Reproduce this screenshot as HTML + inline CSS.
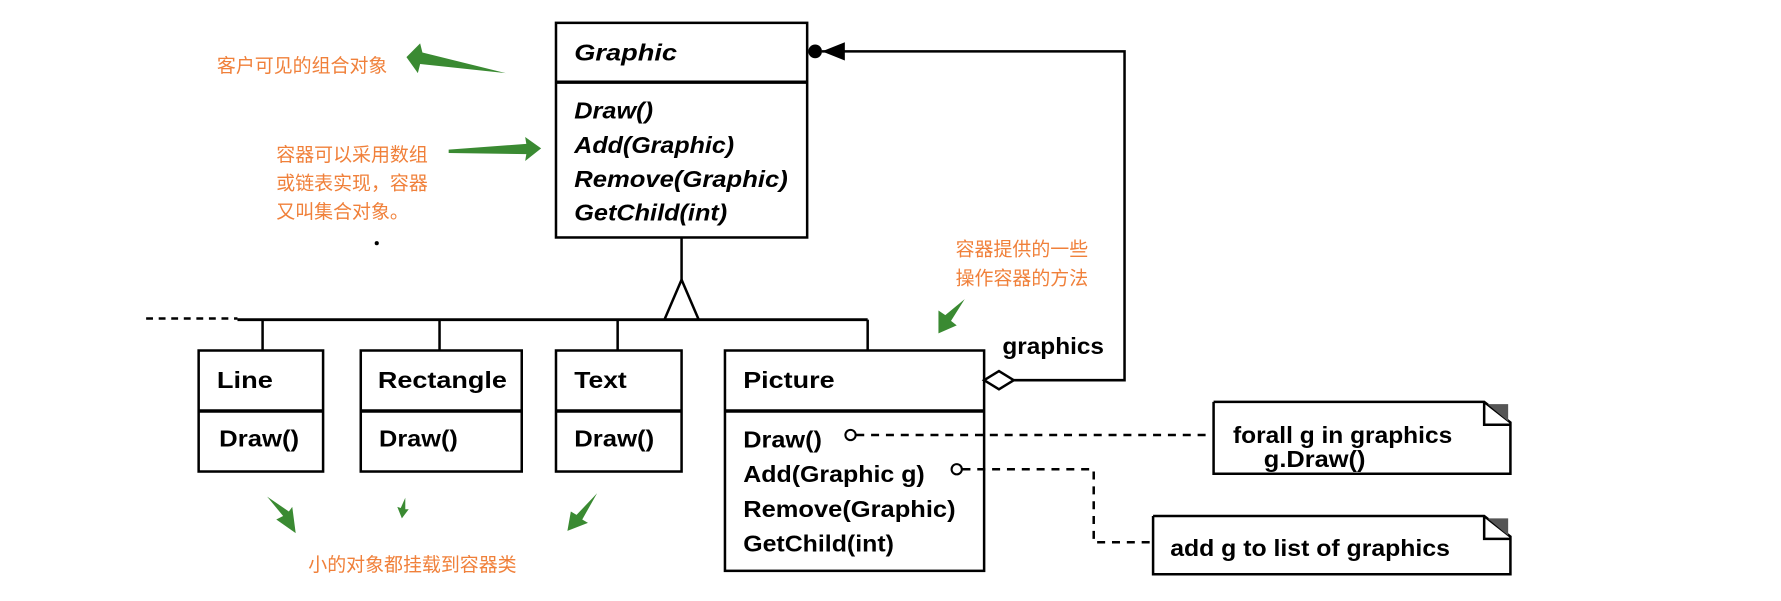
<!DOCTYPE html>
<html><head><meta charset="utf-8"><style>
html,body{margin:0;padding:0;background:#fff;}
svg{display:block;}
.b{font-family:"Liberation Sans",sans-serif;font-weight:bold;fill:#000;}
.m{font-family:"Liberation Sans",sans-serif;font-weight:bold;fill:#000;}
.o{font-family:"Liberation Sans","Noto Sans CJK SC",sans-serif;fill:#f0803a;font-size:16.6px;}
</style></head><body>
<svg width="1781" height="601" viewBox="0 0 1560 526.4" xmlns="http://www.w3.org/2000/svg">
<g stroke="#000" stroke-width="2.2" fill="none">
<rect x="487" y="20" width="220" height="188"/>
<line x1="487" y1="72" x2="707" y2="72" stroke-width="3"/>
<line x1="597" y1="208" x2="597" y2="245"/>
<polygon points="597,245 582,280 612,280"/>
<line x1="208" y1="280" x2="760" y2="280" stroke-width="2.6"/>
<line x1="128" y1="279" x2="208" y2="279" stroke-dasharray="6,5"/>
<line x1="230" y1="280" x2="230" y2="307"/>
<line x1="385" y1="280" x2="385" y2="307"/>
<line x1="541" y1="280" x2="541" y2="307"/>
<line x1="760" y1="280" x2="760" y2="307"/>
<rect x="174" y="307" width="109" height="106"/>
<line x1="174" y1="360" x2="283" y2="360" stroke-width="3"/>
<rect x="316" y="307" width="141" height="106"/>
<line x1="316" y1="360" x2="457" y2="360" stroke-width="3"/>
<rect x="487" y="307" width="110" height="106"/>
<line x1="487" y1="360" x2="597" y2="360" stroke-width="3"/>
<rect x="635" y="307" width="227" height="193"/>
<line x1="635" y1="360" x2="862" y2="360" stroke-width="3"/>
<polyline points="720,45 985,45 985,333 888,333"/>
<polygon points="862,333 875,325 888,333 875,341" fill="#fff"/>
<circle cx="745" cy="381" r="4.5" stroke-width="1.8"/>
<line x1="750" y1="381" x2="1060" y2="381" stroke-dasharray="7,6"/>
<circle cx="838" cy="411" r="4.5" stroke-width="1.8"/>
<polyline points="843,411 958,411 958,475 1010,475" stroke-dasharray="7,6"/>
<polyline points="1063,352 1300,352 1323,370 1323,415 1063,415 1063,352"/>
<polyline points="1300,352 1300,372 1323,372"/>
<polyline points="1010,452 1300,452 1323,470 1323,503 1010,503 1010,452"/>
<polyline points="1300,452 1300,472 1323,472"/>
</g>
<circle cx="714" cy="45" r="6" fill="#000"/>
<polygon points="720,45 740,37 740,53" fill="#000"/>
<path d="M1303,354 L1321,354 L1321,369 Z" fill="#555"/>
<path d="M1303,454 L1321,454 L1321,469 Z" fill="#555"/>
<circle cx="330" cy="213" r="1.8" fill="#000"/>
<g class="b" font-size="20" font-style="italic">
<text x="503" y="53" textLength="90" lengthAdjust="spacingAndGlyphs">Graphic</text>
<text x="503" y="104" textLength="69" lengthAdjust="spacingAndGlyphs">Draw()</text>
<text x="503" y="134" textLength="140" lengthAdjust="spacingAndGlyphs">Add(Graphic)</text>
<text x="503" y="164" textLength="187" lengthAdjust="spacingAndGlyphs">Remove(Graphic)</text>
<text x="503" y="193" textLength="134" lengthAdjust="spacingAndGlyphs">GetChild(int)</text>
</g>
<g class="b" font-size="20">
<text x="190" y="340" textLength="49" lengthAdjust="spacingAndGlyphs">Line</text>
<text x="331" y="340" textLength="113" lengthAdjust="spacingAndGlyphs">Rectangle</text>
<text x="503" y="340" textLength="46" lengthAdjust="spacingAndGlyphs">Text</text>
<text x="651" y="340" textLength="80" lengthAdjust="spacingAndGlyphs">Picture</text>
</g>
<g class="m" font-size="20">
<text x="192" y="391" textLength="70" lengthAdjust="spacingAndGlyphs">Draw()</text>
<text x="332" y="391" textLength="69" lengthAdjust="spacingAndGlyphs">Draw()</text>
<text x="503" y="391" textLength="70" lengthAdjust="spacingAndGlyphs">Draw()</text>
<text x="651" y="392" textLength="69" lengthAdjust="spacingAndGlyphs">Draw()</text>
<text x="651" y="422" textLength="159" lengthAdjust="spacingAndGlyphs">Add(Graphic g)</text>
<text x="651" y="453" textLength="186" lengthAdjust="spacingAndGlyphs">Remove(Graphic)</text>
<text x="651" y="483" textLength="132" lengthAdjust="spacingAndGlyphs">GetChild(int)</text>
<text x="878" y="310" textLength="89" lengthAdjust="spacingAndGlyphs">graphics</text>
<text x="1080" y="388" textLength="192" lengthAdjust="spacingAndGlyphs">forall g in graphics</text>
<text x="1107" y="409" textLength="89" lengthAdjust="spacingAndGlyphs">g.Draw()</text>
<text x="1025" y="487" textLength="245" lengthAdjust="spacingAndGlyphs">add g to list of graphics</text>
</g>
<text class="o" x="190" y="63">客户可见的组合对象</text>
<text class="o" x="242" y="141">容器可以采用数组</text>
<text class="o" x="242" y="166">或链表实现，容器</text>
<text class="o" x="242" y="191">又叫集合对象。</text>
<text class="o" x="837" y="224">容器提供的一些</text>
<text class="o" x="837" y="249">操作容器的方法</text>
<text class="o" x="270" y="500">小的对象都挂载到容器类</text>
<g fill="#3a8a32">
<polygon points="356,50 368,38 370,46 443,64 368,56 366,64"/>
<polygon points="474,130 460,120 461,126 393,131 393,134 461,135 460,141"/>
<polygon points="822,292 822,272 828,276 845,262 833,281 838,285"/>
<polygon points="259,467 242,455 248,452 234,435 253,448 256,444"/>
<polygon points="352,454 348,444 351,445 355,436 355,446 358,446"/>
<polygon points="497,465 500,448 505,451 523,432 510,455 515,458"/>
</g>
</svg>
</body></html>
